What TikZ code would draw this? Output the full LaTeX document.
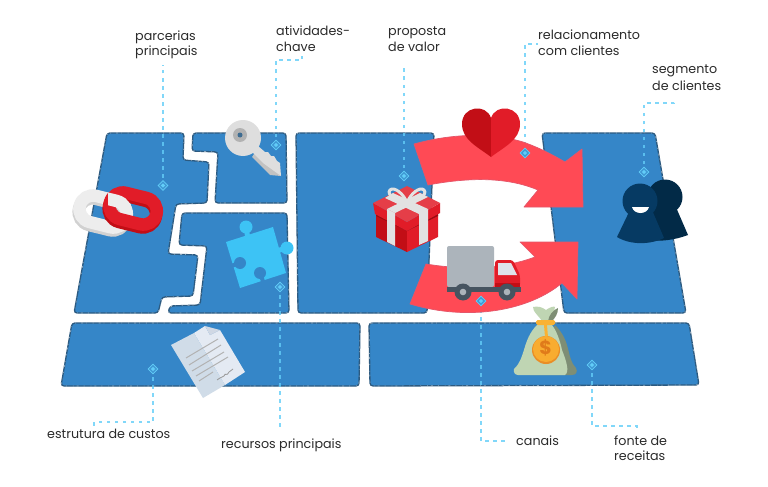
\documentclass[tikz,border=0pt]{standalone}
\usepackage{fontspec}
\setmainfont{Poppins}
\usetikzlibrary{shapes.geometric}
\definecolor{panelblue}{HTML}{3586C8}
\definecolor{panelline}{HTML}{2C5A80}
\definecolor{leadc}{HTML}{62CDF8}
\definecolor{arrowred}{HTML}{FF4A55}
\definecolor{arrowedge}{HTML}{E4566A}
\definecolor{txt}{HTML}{2B2B2B}
\definecolor{darkred}{HTML}{C20E16}
\definecolor{midred}{HTML}{E11C28}
\definecolor{ribbon}{HTML}{E2E2E2}
\definecolor{puzzlec}{HTML}{3DC3F5}
\tikzset{
  panel/.style={fill=panelblue,draw=panelline,line width=1.3,rounded corners=3,
    postaction={draw=white,line width=.7,opacity=.45,dash pattern=on 1pt off 5pt on 2pt off 3pt on .7pt off 6pt}},
  bigarrow/.style={fill=arrowred,draw=arrowedge,line width=.7,line join=round},
  leader/.style={draw=leadc,line width=1.1,dash pattern=on 3.5pt off 4.5pt,opacity=.8},
  mk/.style={diamond,draw=leadc,line width=.8,fill=leadc!25!panelblue,inner sep=0,minimum size=10},
  mkin/.style={diamond,fill=leadc,inner sep=0,minimum size=4.5},
  lab/.style={anchor=base west,inner sep=0,text=txt,font=\fontsize{12.7}{16}\selectfont},
}
\begin{document}
\begin{tikzpicture}[x=1pt,y=-1pt]
\useasboundingbox (0,0) rectangle (768,487);
\fill[white] (0,0) rectangle (768,487);
% panels
\path[panel] (107,133) -- (184,133) -- (183,160) -- (209,162) -- (207,203) -- (176,204) -- (168,254) -- (198,255) -- (193,296) -- (162,297) -- (158,313) -- (74,313) -- cycle;
\path[panel] (193,133) -- (286,133) -- (287,203) -- (215,203) -- (218,152) -- (192,151) -- cycle;
\path[panel] (182,213) -- (287,213) -- (289,313) -- (168,313) -- (170,306) -- (200,305) -- (207,246) -- (179,245) -- cycle;
\path[panel] (296,133) -- (434,133) -- (427,313) -- (298,313) -- cycle;
\path[panel] (542,133) -- (655,133) -- (686,313) -- (564,313) -- cycle;
\path[panel] (72,323) -- (360,323) -- (359,386) -- (61,386) -- cycle;
\path[panel] (369,323) -- (689,323) -- (699,385) -- (370,386) -- cycle;
% markers and label nodes
\foreach \n/\p in {mParc/{163,185.5},mAtiv/{276,145},mProp/{404,176},mRela/{525,153},mSegm/{644,172},mRecu/{280,287},mEstr/{153,369},mCana/{481,301},mFont/{592,365}}{
  \node[mk,opacity=0] (\n) at (\p) {};
}
\coordinate (eParc) at (163,65);
\coordinate (eAtiv1) at (276,60); \coordinate (eAtiv2) at (302,60); \coordinate (eAtiv3) at (302,56);
\coordinate (eProp) at (404,67);
\coordinate (eRela1) at (525,44); \coordinate (eRela2) at (538,44);
\coordinate (eSegm1) at (644,103); \coordinate (eSegm2) at (674,103); \coordinate (eSegm3) at (674,100);
\coordinate (eRecu) at (280,427);
\coordinate (eEstr1) at (153,422); \coordinate (eEstr2) at (94,422); \coordinate (eEstr3) at (94,426);
\coordinate (eCana1) at (481,441); \coordinate (eCana2) at (507,441);
\coordinate (eFont1) at (592,426); \coordinate (eFont2) at (637,426); \coordinate (eFont3) at (637,432);
\draw[leader] (mParc.center) -- (eParc);
\draw[leader] (mAtiv.center) -- (eAtiv1) -- (eAtiv2) -- (eAtiv3);
\draw[leader] (mProp.center) -- (eProp);
\draw[leader] (mRela.center) -- (eRela1) -- (eRela2);
\draw[leader] (mSegm.center) -- (eSegm1) -- (eSegm2) -- (eSegm3);
\draw[leader] (mRecu.center) -- (eRecu);
\draw[leader] (mEstr.center) -- (eEstr1) -- (eEstr2) -- (eEstr3);
\draw[leader] (mCana.center) -- (eCana1) -- (eCana2);
\draw[leader] (mFont.center) -- (eFont1) -- (eFont2) -- (eFont3);
% arrows
\path[bigarrow] (414,144) .. controls (450,134) and (490,132) .. (523,142) .. controls (540,148) and (553,155) .. (565,162) -- (582,149) -- (583,207) -- (524,207) -- (538,190) .. controls (505,176) and (465,178) .. (428,185) -- cycle;
\path[bigarrow] (410,304) -- (426,264) .. controls (450,268) and (495,272) .. (535,257) -- (520,242) -- (578,242) -- (577,299) -- (562,283) .. controls (530,310) and (470,322) .. (410,304) -- cycle;
% heart
\fill[darkred] (491,157) .. controls (478,147) and (462,140) .. (462,124) .. controls (462,106) and (486,103) .. (491,118) -- cycle;
\fill[midred] (491,157) .. controls (504,147) and (520,140) .. (520,124) .. controls (520,106) and (496,103) .. (491,118) -- cycle;
% gift
\fill[darkred] (376,215) -- (407,231) -- (407,252) -- (376,237) -- cycle;
\fill[midred] (438,215) -- (407,231) -- (407,252) -- (438,237) -- cycle;
\fill[darkred!80!black] (376,216) -- (407,231) -- (438,216) -- (438,213) -- (407,228) -- (376,213) -- cycle;
\fill[midred] (373,203) -- (407,222) -- (407,231) -- (375,214) -- cycle;
\fill[midred] (440,203) -- (407,222) -- (407,231) -- (440,213) -- cycle;
\fill[midred!85!white] (407,186) -- (440,203) -- (407,222) -- (373,203) -- cycle;
\fill[ribbon] (387,209) -- (395,213) -- (395,246) -- (387,242) -- cycle;
\fill[ribbon] (419,213) -- (428,209) -- (428,241) -- (419,245) -- cycle;
\fill[ribbon] (387,209) -- (395,213) -- (428,197) -- (420,193) -- cycle;
\fill[ribbon] (393,193) -- (385,198) -- (419,214) -- (428,209) -- cycle;
\draw[ribbon,line width=3] (407,203) .. controls (396,202) and (386,194) .. (390,190) .. controls (394,186) and (404,194) .. (407,203) .. controls (410,194) and (420,186) .. (424,190) .. controls (428,194) and (418,202) .. (407,203);
% truck
\fill[fill={rgb,255:red,172;green,180;blue,187},rounded corners=2] (447,287) -- (447,246) -- (494,246) -- (494,287) -- cycle;
\fill[midred,rounded corners=3] (495,287) -- (495,260) -- (513,260) -- (520,275) -- (520,287) -- cycle;
\fill[darkred] (495,283) rectangle (520,288);
\fill[fill={rgb,255:red,222;green,226;blue,234}] (498,263) -- (511,263) -- (517,275) -- (498,275) -- cycle;
\fill[fill={rgb,255:red,70;green,84;blue,96}] (447,287) rectangle (521,292);
\foreach \x in {463,507}{
  \fill[fill={rgb,255:red,70;green,84;blue,96}] (\x,292) circle[radius=8.5];
  \fill[fill={rgb,255:red,172;green,180;blue,187}] (\x,292) circle[radius=3.3];
}
% chain
\begin{scope}[shift={(103,212)},rotate=-14]
\draw[line width=12.5,draw=black!18,rounded corners=13.4] (-24,-11) rectangle (24,16);
\draw[line width=12.5,draw=black!7,rounded corners=13.4] (-24,-14) rectangle (24,13);
\end{scope}
\begin{scope}[shift={(133,209)},rotate=-14]
\draw[line width=12.5,draw=darkred,rounded corners=13.4] (-24,-11) rectangle (24,16);
\draw[line width=12.5,draw=midred,rounded corners=13.4] (-24,-14) rectangle (24,13);
\end{scope}
\begin{scope}
\clip (108,186) rectangle (138,208);
\begin{scope}[shift={(103,212)},rotate=-14]
\draw[line width=12.5,draw=black!7,rounded corners=13.4] (-24,-14) rectangle (24,13);
\end{scope}
\end{scope}
% key
\fill[fill=black!24] (252,157) -- (258,148) -- (281,176) -- (270,175) -- cycle;
\fill[fill=black!13] (250,150) -- (258,146) -- (265,152) -- (268,152) -- (271,156) -- (274,156) -- (277,161) -- (280,163) -- (281,176) -- (263,163) -- cycle;
\fill[fill=black!13] (243,138) circle[radius=18];
\fill[fill=black!30] (240,135) circle[radius=7];
\fill[fill={rgb,255:red,62;green,108;blue,145}] (240,135) circle[radius=2.5];
% puzzle
\fill[puzzlec] (226,242) -- (273,227) -- (286,273) -- (240,288) -- cycle;
\fill[puzzlec] (246,227) circle[radius=6.5];
\draw[puzzlec,line width=5] (246,227) -- (248,239);
\fill[puzzlec] (287,248) circle[radius=6.5];
\draw[puzzlec,line width=5] (287,248) -- (276,251);
\fill[panelblue] (240,263) circle[radius=6];
\draw[panelblue,line width=4] (240,263) -- (231,266);
\fill[panelblue] (260,273) circle[radius=6];
\draw[panelblue,line width=4] (260,273) -- (264,284);
% document
\fill[fill={rgb,255:red,208;green,220;blue,232}] (171,345) -- (194,333) -- (225,385) -- (203,398) -- cycle;
\fill[fill={rgb,255:red,228;green,234;blue,243}] (194,333) -- (205,326) -- (210,335) -- (220,330) -- (245,372) -- (225,385) -- cycle;
\fill[fill={rgb,255:red,208;green,216;blue,228}] (205,326) -- (220,330) -- (210,335) -- cycle;
\draw[line width=1,draw=black!30] (186,358) -- (218,339) (189,365) -- (221,345) (192,371) -- (224,352) (196,376) -- (228,357) (199,381) -- (213,372);
\draw[line width=.8,draw=black!40] (217,380) .. controls (222,376) and (222,378) .. (224,376) .. controls (225,372) and (227,377) .. (229,372) -- (233,369);
% money bag
\fill[fill={rgb,255:red,126;green,142;blue,117}] (555,325) .. controls (572,342) and (566,358) .. (576,368) .. controls (578,372) and (576,375) .. (572,375) -- (530,375) -- cycle;
\fill[fill={rgb,255:red,191;green,213;blue,179}] (537,325) .. controls (522,340) and (526,358) .. (514,369) .. controls (513,372) and (515,375) .. (518,375) -- (565,375) .. controls (570,372) and (566,360) .. (562,350) .. controls (560,340) and (556,330) .. (552,325) -- cycle;
\fill[fill={rgb,255:red,191;green,213;blue,179}] (542,321) .. controls (538,315) and (533,312) .. (533,307) .. controls (538,306) and (542,307) .. (546,310) .. controls (550,307) and (554,306) .. (555,307) -- (552,321) -- cycle;
\fill[fill={rgb,255:red,126;green,142;blue,117}] (548,321) .. controls (549,315) and (553,310) .. (558,308) .. controls (558,314) and (555,318) .. (552,321) -- cycle;
\fill[fill={rgb,255:red,249;green,178;blue,51},rounded corners=1.5] (536,320) rectangle (555,325);
\fill[fill={rgb,255:red,249;green,178;blue,51}] (544,325) -- (547,325) -- (548,337) -- (545,337) -- cycle;
\fill[fill={rgb,255:red,233;green,142;blue,38}] (546,350) circle[radius=14];
\fill[fill={rgb,255:red,248;green,172;blue,48}] (546,349) circle[radius=13];
\node[inner sep=0,font=\fontsize{19}{19}\bfseries\selectfont,text={rgb,255:red,224;green,123;blue,26}] (dollar) at (545.5,348) {\$};
% people
\fill[fill={rgb,255:red,2;green,42;blue,71}] (665,197) circle[radius=17.5];
\fill[fill={rgb,255:red,2;green,42;blue,71}] (655,205) -- (675,205) -- (688,235) .. controls (675,240) and (660,242) .. (645,240) -- cycle;
\fill[fill={rgb,255:red,6;green,58;blue,99}] (640,201) circle[radius=17.5];
\fill[fill={rgb,255:red,6;green,58;blue,99}] (630,210) -- (652,210) -- (664,238) .. controls (650,245) and (630,245) .. (617,237) -- cycle;
\fill[white] (632,207) -- (649,207) .. controls (647,215) and (634,215) .. (632,207) -- cycle;
% marker tops
\foreach \n in {mParc,mAtiv,mProp,mRela,mSegm,mRecu,mEstr,mCana,mFont}{
  \node[mk] (\n-top) at (\n.center) {};
  \node[mkin] (\n-in) at (\n.center) {};
}
% labels
\node[lab] (lParcA) at (135,41) {parcerias};
\node[lab] (lParcB) at (135,56) {principais};
\node[lab] (lAtivA) at (276,36) {atividades-};
\node[lab] (lAtivB) at (276,52) {chave};
\node[lab] (lPropA) at (388,36) {proposta};
\node[lab] (lPropB) at (388,52) {de valor};
\node[lab] (lRelaA) at (538,40) {relacionamento};
\node[lab] (lRelaB) at (538,56) {com clientes};
\node[lab] (lSegmA) at (652,74) {segmento};
\node[lab] (lSegmB) at (652,90) {de clientes};
\node[lab] (lEstr) at (47,438) {estrutura de custos};
\node[lab] (lRecu) at (221,448) {recursos principais};
\node[lab] (lCana) at (516,445) {canais};
\node[lab] (lFontA) at (614,445) {fonte de};
\node[lab] (lFontB) at (614,460) {receitas};
\end{tikzpicture}
\end{document}
